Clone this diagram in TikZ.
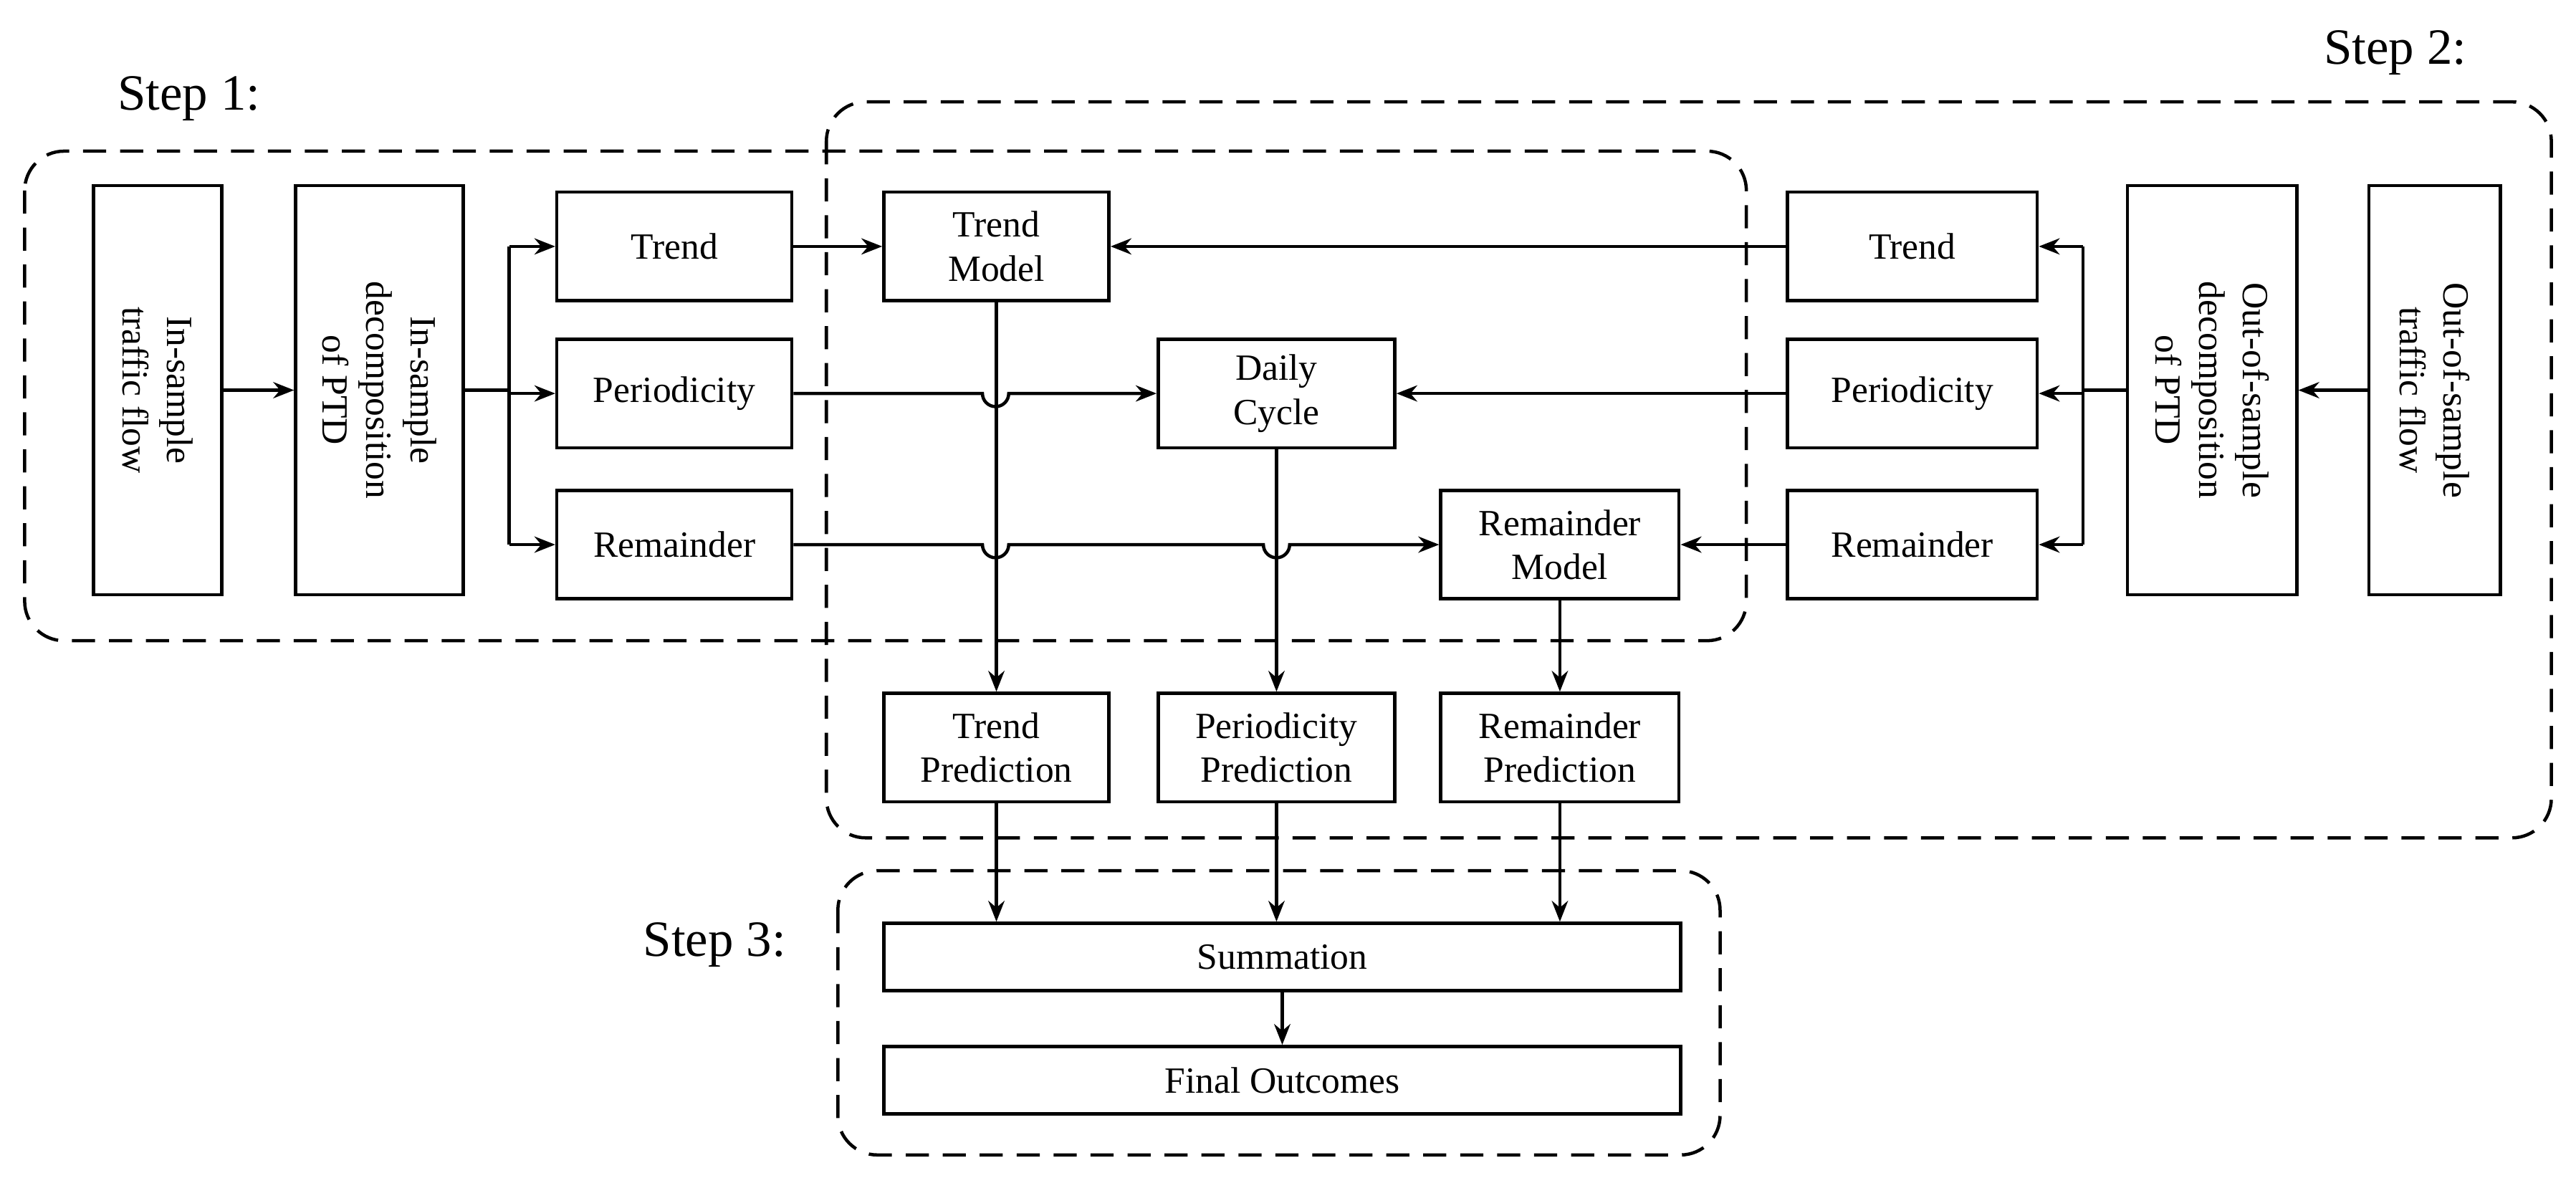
\documentclass[tikz,border=0pt]{standalone}
\usepackage{fontspec}
\setmainfont{Liberation Serif}
\usetikzlibrary{arrows.meta,calc}
\begin{document}
\begin{tikzpicture}[x=0.025cm,y=-0.025cm,
  box/.style={draw,line width=1.4pt,inner sep=0pt,align=center,font=\fontsize{16}{19}\selectfont},
  sb/.style={box,minimum width=3.575cm,minimum height=1.65cm},
  vb/.style={box,rotate=-90,minimum width=6.225cm},
  grp/.style={draw,line width=1.4pt,dash pattern=on 10pt off 6pt,rounded corners=0.6cm},
  lab/.style={font=\fontsize{22}{26}\selectfont,inner sep=0pt},
  ar/.style={line width=1.4pt,-{Stealth[length=9pt,width=7pt]}},
  ln/.style={line width=1.4pt}]
\useasboundingbox (0,0) rectangle (1568,717);
\draw[grp] (15,92) rectangle (1063,390);
\draw[grp] (503,62) rectangle (1553,510);
\draw[grp] (510,530) rectangle (1047,703);
\node[lab] (s1) at (115,60) {Step 1:};
\node[lab] (s2) at (1458,32) {Step 2:};
\node[lab] (s3) at (435,575) {Step 3:};
\node[vb,minimum height=1.95cm] (inf) at (96,237.5) {In-sample\\traffic flow};
\node[vb,minimum height=2.55cm] (ind) at (231,237.5) {In-sample\\decomposition\\of PTD};
\node[sb] (tl) at (410.5,150) {Trend};
\node[sb] (pl) at (410.5,239.5) {Periodicity};
\node[sb] (rl) at (410.5,331.5) {Remainder};
\node[sb,minimum width=3.425cm] (tm) at (606.5,150) {Trend\\Model};
\node[sb,minimum width=3.6cm] (dc) at (777,239.5) {Daily\\Cycle};
\node[sb,minimum width=3.625cm] (rm) at (949.5,331.5) {Remainder\\Model};
\node[sb,minimum width=3.8cm] (tr) at (1164,150) {Trend};
\node[sb,minimum width=3.8cm] (pr) at (1164,239.5) {Periodicity};
\node[sb,minimum width=3.8cm] (rr) at (1164,331.5) {Remainder};
\node[vb,minimum height=2.575cm] (outd) at (1346.5,237.5) {Out-of-sample\\decomposition\\of PTD};
\node[vb,minimum height=2.0cm] (outf) at (1482,237.5) {Out-of-sample\\traffic flow};
\node[sb,minimum width=3.425cm] (tp) at (606.5,455) {Trend\\Prediction};
\node[sb,minimum width=3.6cm] (pp) at (777,455) {Periodicity\\Prediction};
\node[sb,minimum width=3.625cm] (rp) at (949.5,455) {Remainder\\Prediction};
\node[box,minimum width=12.125cm,minimum height=1.025cm] (sum) at (780.5,582.5) {Summation};
\node[box,minimum width=12.125cm,minimum height=1.025cm] (fin) at (780.5,657.5) {Final Outcomes};
% left side
\draw[ar] (inf.north) -- (ind.south);
\coordinate (sl) at (310,237.5);
\draw[ln] (ind.north) -- (sl);
\draw[ln] (310,150) -- (310,331.5);
\draw[ar] (310,150) -- (tl.west);
\draw[ar] (310,239.5) -- (pl.west);
\draw[ar] (310,331.5) -- (rl.west);
\draw[ar] (tl.east) -- (tm.west);
\draw[ar] (pl.east) -- (598,239.5) arc[start angle=180,end angle=0,radius=8] -- (dc.west);
\draw[ar] (rl.east) -- (598,331.5) arc[start angle=180,end angle=0,radius=8] -- (769,331.5) arc[start angle=180,end angle=0,radius=8] -- (rm.west);
% right side
\draw[ar] (outf.south) -- (outd.north);
\draw[ln] (outd.south) -- (1268,237.5);
\draw[ln] (1268,150) -- (1268,331.5);
\draw[ar] (1268,150) -- (tr.east);
\draw[ar] (1268,239.5) -- (pr.east);
\draw[ar] (1268,331.5) -- (rr.east);
\draw[ar] (tr.west) -- (tm.east);
\draw[ar] (pr.west) -- (dc.east);
\draw[ar] (rr.west) -- (rm.east);
% down
\draw[ar] (tm.south) -- (tp.north);
\draw[ar] (dc.south) -- (pp.north);
\draw[ar] (rm.south) -- (rp.north);
\draw[ar] (tp.south) -- (tp.south|-sum.north);
\draw[ar] (pp.south) -- (pp.south|-sum.north);
\draw[ar] (rp.south) -- (rp.south|-sum.north);
\draw[ar] (sum.south) -- (fin.north);
\end{tikzpicture}
\end{document}
